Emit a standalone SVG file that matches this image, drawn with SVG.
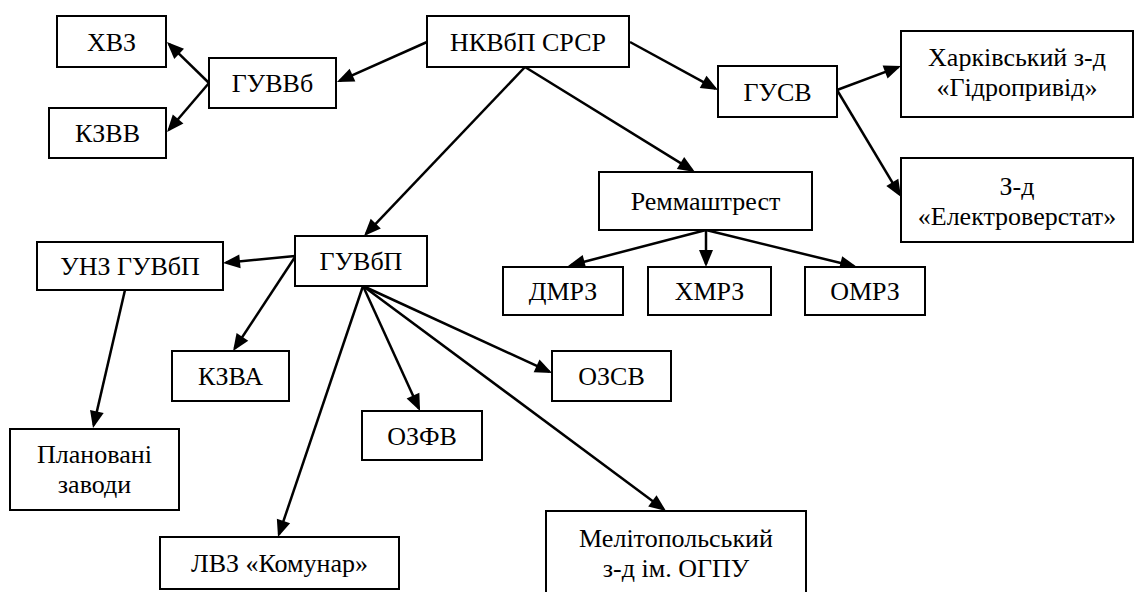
<svg xmlns="http://www.w3.org/2000/svg" width="1134" height="592" viewBox="0 0 1134 592">
<style>
rect{fill:#fff;stroke:#000;stroke-width:2}
text{font-family:Liberation Serif,serif;font-size:26px;fill:#000;text-anchor:middle}
.c line{stroke:#000;stroke-width:2.5;marker-end:url(#ah)}
</style>
<defs>
<marker id="ah" markerUnits="userSpaceOnUse" markerWidth="17" markerHeight="14" refX="14" refY="7" orient="auto" overflow="visible">
<path d="M0,0 L17,7 L0,14 z" fill="#000"/>
</marker>
</defs>
<rect x="0" y="0" width="1134" height="592" style="stroke:none"/>
<g class="c" id="connectors">
<line x1="427" y1="42" x2="339.7" y2="80.8"/>
<line x1="209" y1="83" x2="169.1" y2="44.1"/>
<line x1="209" y1="83" x2="169" y2="129.7"/>
<line x1="630" y1="42" x2="715.4" y2="88.6"/>
<line x1="525" y1="67" x2="366.1" y2="233.8"/>
<line x1="525" y1="67" x2="692.4" y2="170.4"/>
<line x1="837" y1="90" x2="898.2" y2="67.1"/>
<line x1="837" y1="90" x2="899.5" y2="194.4"/>
<line x1="706" y1="230" x2="570.9" y2="265.2"/>
<line x1="706" y1="230" x2="706" y2="264"/>
<line x1="706" y1="230" x2="854.1" y2="266.3"/>
<line x1="295" y1="256" x2="226" y2="262.7"/>
<line x1="295" y1="257" x2="234.7" y2="348.5"/>
<line x1="125" y1="290" x2="93.7" y2="425.1"/>
<line x1="363" y1="286" x2="279" y2="534.2"/>
<line x1="363" y1="286" x2="418.8" y2="408.3"/>
<line x1="363" y1="286" x2="549.3" y2="371.7"/>
<line x1="363" y1="286" x2="663.6" y2="509.2"/>
</g>
<g id="n-hvz"><rect x="57" y="16" width="109" height="51"/><text x="111.5" y="50.5" font-family="Liberation Serif">ХВЗ</text></g>
<g id="n-kzvv"><rect x="49" y="108" width="117" height="50"/><text x="107.5" y="142" font-family="Liberation Serif">КЗВВ</text></g>
<g id="n-guvvb"><rect x="209" y="58" width="127" height="50"/><text x="272.5" y="92" font-family="Liberation Serif">ГУВВб</text></g>
<g id="n-nkvbp"><rect x="427" y="16" width="202" height="51"/><text x="528" y="50.5" font-family="Liberation Serif">НКВбП СРСР</text></g>
<g id="n-gusv"><rect x="718" y="66" width="119" height="51"/><text x="777.5" y="100.5" font-family="Liberation Serif">ГУСВ</text></g>
<g id="n-hidro"><rect x="901" y="31" width="232" height="86"/><text x="1017" y="66" font-family="Liberation Serif">Харківський з-д</text><text x="1017" y="96" font-family="Liberation Serif">«Гідропривід»</text></g>
<g id="n-elektro"><rect x="901" y="158" width="232" height="84"/><text x="1017" y="195" font-family="Liberation Serif">З-д</text><text x="1017" y="225" font-family="Liberation Serif">«Електроверстат»</text></g>
<g id="n-remmash"><rect x="599" y="172" width="213" height="58"/><text x="705.5" y="210" font-family="Liberation Serif">Реммаштрест</text></g>
<g id="n-dmrz"><rect x="503" y="267" width="120" height="48"/><text x="563" y="300" font-family="Liberation Serif">ДМРЗ</text></g>
<g id="n-hmrz"><rect x="648" y="267" width="123" height="48"/><text x="709.5" y="300" font-family="Liberation Serif">ХМРЗ</text></g>
<g id="n-omrz"><rect x="805" y="267" width="120" height="48"/><text x="865" y="300" font-family="Liberation Serif">ОМРЗ</text></g>
<g id="n-unz"><rect x="37" y="242" width="186" height="48"/><text x="130" y="275" font-family="Liberation Serif">УНЗ ГУВбП</text></g>
<g id="n-guvbp"><rect x="295" y="236" width="132" height="50"/><text x="361" y="270" font-family="Liberation Serif">ГУВбП</text></g>
<g id="n-kzva"><rect x="172" y="351" width="117" height="50"/><text x="230.5" y="385" font-family="Liberation Serif">КЗВА</text></g>
<g id="n-ozsv"><rect x="552" y="351" width="119" height="50"/><text x="611.5" y="385" font-family="Liberation Serif">ОЗСВ</text></g>
<g id="n-ozfv"><rect x="362" y="411" width="120" height="49"/><text x="422" y="444.5" font-family="Liberation Serif">ОЗФВ</text></g>
<g id="n-plan"><rect x="10" y="429" width="169" height="81"/><text x="94.5" y="463" font-family="Liberation Serif">Плановані</text><text x="94.5" y="493" font-family="Liberation Serif">заводи</text></g>
<g id="n-lvz"><rect x="160" y="537" width="239" height="52"/><text x="279.5" y="572" font-family="Liberation Serif">ЛВЗ «Комунар»</text></g>
<g id="n-melit"><rect x="546" y="511" width="260" height="90"/><text x="676" y="547" font-family="Liberation Serif">Мелітопольський</text><text x="676" y="577" font-family="Liberation Serif">з-д ім. ОГПУ</text></g>
</svg>
